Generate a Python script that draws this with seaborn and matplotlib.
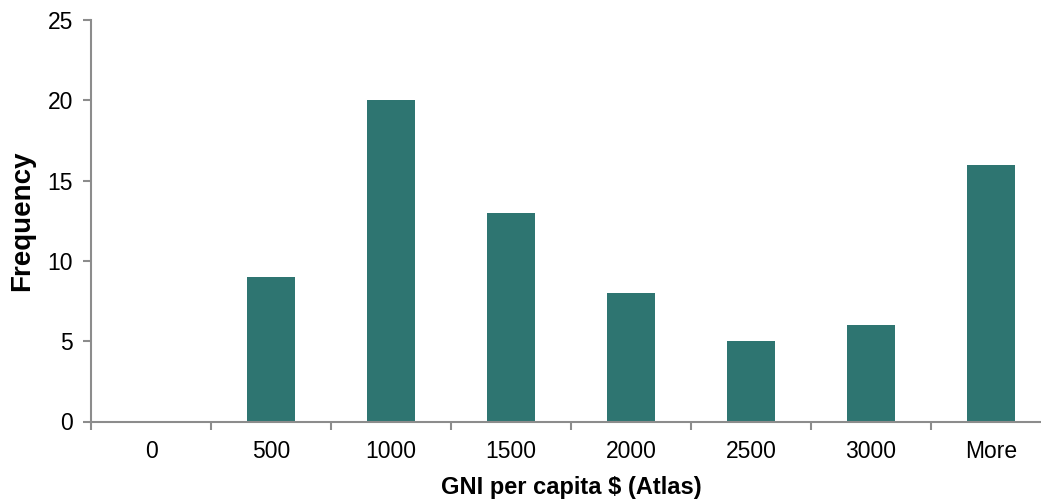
import matplotlib
matplotlib.use("Agg")
import matplotlib.pyplot as plt
import seaborn as sns
import pandas as pd
import numpy as np
from matplotlib.ticker import FixedLocator

categories = ["0", "500", "1000", "1500", "2000", "2500", "3000", "More"]
frequency = [0, 9, 20, 13, 8, 5, 6, 16]
y_ticks = [0, 5, 10, 15, 20, 25]

sns.set_theme(style="white")
plt.rcParams['font.family'] = ['Liberation Sans', 'DejaVu Sans']

df = pd.DataFrame({"bin": categories, "freq": frequency})

fig = plt.figure(figsize=(10.41, 5.03), dpi=100)
W, H = 1041, 503
left, right, top, bottom = 91, 1051, 20, 421.5
ax = fig.add_axes([left / W, (H - bottom) / H, (right - left) / W, (bottom - top) / H])

sns.barplot(data=df, x="bin", y="freq", color="#2E7571", width=0.4,
            saturation=1, ax=ax, edgecolor="none")

ax.set_xlim(-0.5, len(categories) - 0.5)
ax.set_ylim(0, 25)
ax.set_yticks(y_ticks)
ax.set_yticklabels([str(t) for t in y_ticks])

grey = "#8C8C8C"
for s in ["top", "right"]:
    ax.spines[s].set_visible(False)
for s in ["left", "bottom"]:
    ax.spines[s].set_color(grey)
    ax.spines[s].set_linewidth(1.5)

ax.xaxis.set_minor_locator(FixedLocator(np.arange(-0.5, len(categories), 1.0)))
ax.tick_params(axis="x", which="major", length=0, pad=13.5, labelsize=16.5, labelcolor="black")
ax.tick_params(axis="x", which="minor", length=6, width=1.5, color=grey, bottom=True)
ax.tick_params(axis="y", which="major", length=6, width=1.5, color=grey, left=True,
               pad=7, labelsize=16.5, labelcolor="black")

ax.set_xlabel("GNI per capita $ (Atlas)", fontsize=17, fontweight="bold", labelpad=9, color="black")
ax.set_ylabel("Frequency", fontsize=20, fontweight="bold", labelpad=9, color="black")
ax.grid(False)

fig.savefig("out.png", dpi=100)
